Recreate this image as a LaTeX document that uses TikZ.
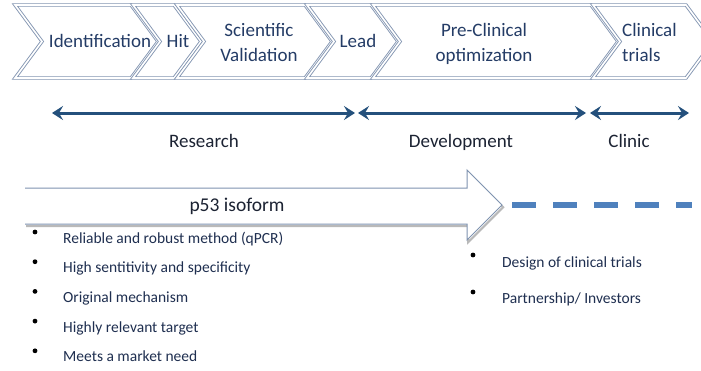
\documentclass[tikz,border=0pt]{standalone}
\usepackage{fontspec}
\setmainfont{Carlito}
\usetikzlibrary{arrows.meta}
\definecolor{chevline}{HTML}{8496B2}
\definecolor{chevtext}{HTML}{243C66}
\definecolor{phaseblue}{HTML}{24507C}
\definecolor{labtext}{HTML}{1C2333}
\definecolor{bultext}{HTML}{1F2F50}
\definecolor{dashblue}{HTML}{4F81BD}
\definecolor{p53line}{HTML}{7F93B0}
\tikzset{
  chevbox/.style={draw=chevline, line width=0.9pt, double=white, double distance=1.6pt, fill=white, line join=miter},
  chevlab/.style={text=chevtext, font=\fontsize{19}{25}\selectfont, inner sep=0pt, align=center},
  phaselab/.style={text=labtext, font=\fontsize{19}{23}\selectfont, inner sep=0pt, anchor=base},
  phasearrow/.style={draw=phaseblue, line width=3pt, {Stealth[length=11pt,width=14pt,inset=4pt]}-{Stealth[length=11pt,width=14pt,inset=4pt]}},
  bulletdot/.style={circle, fill=black, inner sep=0pt, minimum size=4.8pt},
  bultxt/.style={text=bultext, font=\fontsize{15.5}{18}\selectfont, inner sep=0pt, anchor=base west},
  dashline/.style={draw=dashblue, line width=6.5pt, dash pattern=on 24pt off 17pt}
}
\begin{document}
\begin{tikzpicture}[x=1pt,y=-1pt]
\useasboundingbox (0,0) rectangle (701,370);
\fill[white] (0,0) rectangle (701,370);
% chevrons
\begin{scope}
\clip (0,0) rectangle (701,370);
\foreach \xl/\xr in {15/131,133/174,177/305,307/371,373/591,593/686}{
  \draw[chevbox] (\xl,5) -- (\xr,5) -- (\xr+27,41.5) -- (\xr,78) -- (\xl,78) -- (\xl+27,41.5) -- cycle;
}
\end{scope}
\node[chevlab] (ident) at (100,41) {Identification};
\node[chevlab] (hit) at (178,41) {Hit};
\node[chevlab] (sci) at (259,42.5) {Scientific\\Validation};
\node[chevlab] (lead) at (358,41) {Lead};
\node[chevlab] (pre) at (484,44) {Pre-Clinical\\optimization};
\node[chevlab, align=left, anchor=west] (clin) at (622,42.5) {Clinical\\trials};
% phase arrows
\coordinate (ra) at (52,113);
\coordinate (rb) at (355,113);
\coordinate (da) at (358,113);
\coordinate (db) at (586,113);
\coordinate (ca) at (590,113);
\coordinate (cb) at (689,113);
\draw[phasearrow] (ra) -- (rb);
\draw[phasearrow] (da) -- (db);
\draw[phasearrow] (ca) -- (cb);
\node[phaselab] (research) at (204,147) {Research};
\node[phaselab] (develop) at (461,147) {Development};
\node[phaselab] (clinic) at (629,147) {Clinic};
% p53 arrow
\draw[gray!55, line width=2pt, line join=miter, shift={(1.2,2.2)}]
  (25,188) -- (467,188) -- (467,170) -- (502,205) -- (467,240) -- (467,224) -- (25,224);
\fill[white] (25,188) -- (467,188) -- (467,170) -- (502,205) -- (467,240) -- (467,224) -- (25,224) -- cycle;
\draw[p53line, line width=1pt, line join=miter]
  (25,188) -- (467,188) -- (467,170) -- (502,205) -- (467,240) -- (467,224) -- (25,224);
\node[text=labtext, font=\fontsize{19.5}{23}\selectfont, inner sep=0pt] (p53) at (237,206) {p53 isoform};
\coordinate (dstart) at (512,205);
\coordinate (dend) at (692,205);
\draw[dashline] (dstart) -- (dend);
% left bullet list
\foreach \i/\y/\t in {1/243/{Reliable and robust method (qPCR)},2/272.7/{High sentitivity and specificity},3/302.4/{Original mechanism},4/332.1/{Highly relevant target},5/361.8/{Meets a market need}}{
  \node[bulletdot] (lb\i) at (35,\y-11) {};
  \node[bultxt] (lt\i) at (63,\y) {\t};
}
% right bullet list
\node[bulletdot] (rb1) at (473,255) {};
\node[bultxt] (rt1) at (502,267) {Design of clinical trials};
\node[bulletdot] (rb2) at (473,292) {};
\node[bultxt] (rt2) at (502,303) {Partnership/ Investors};
\end{tikzpicture}
\end{document}
